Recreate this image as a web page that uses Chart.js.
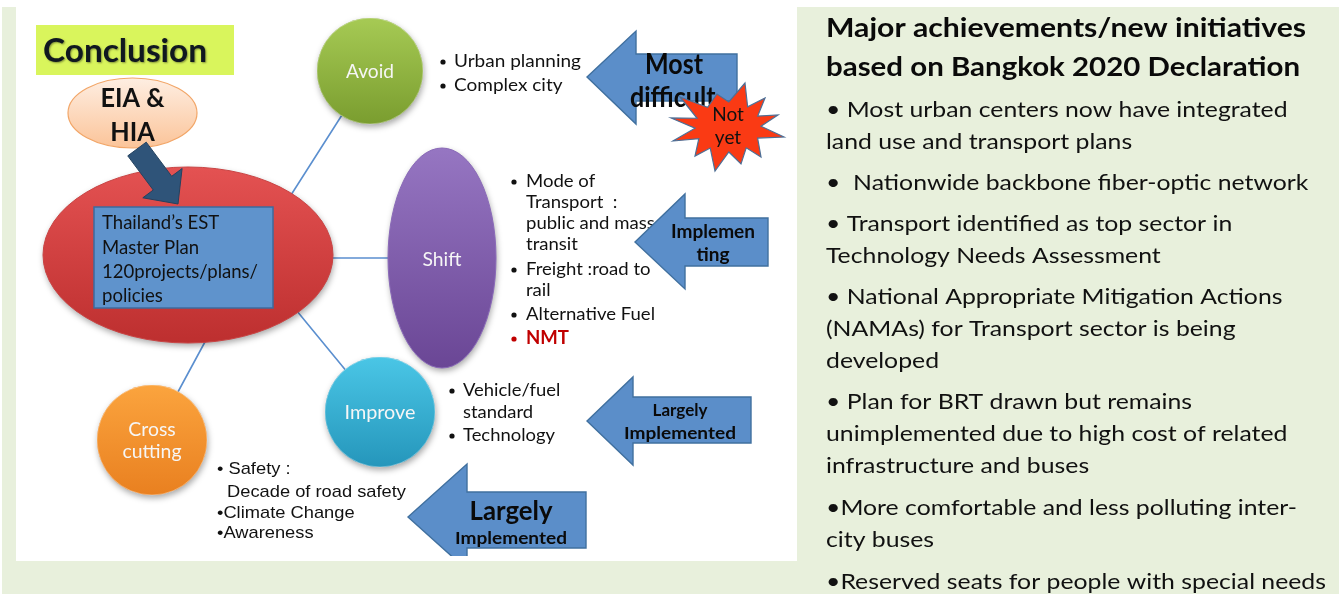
<!DOCTYPE html>
<html><head><meta charset="utf-8">
<script src="https://cdn.jsdelivr.net/npm/chart.js@4"></script>
<style>html,body{margin:0;padding:0;background:#fff;overflow:hidden}canvas{display:block}</style>
</head><body>
<canvas id="c" width="1344" height="594"></canvas>
<script>
// ---------- DATA (text content of the diagram) ----------
const conclusionTitle = "Conclusion";
const assessmentLabel = ["EIA &", "HIA"];
const masterPlanLabel = ["Thailand\u2019s EST", "Master Plan", "120projects/plans/", "policies"];
const strategyLabels = [["Avoid"], ["Improve"], ["Cross", "cutting"]];
const shiftLabel = "Shift";
const avoidItems = [["Urban planning"], ["Complex city"]];
const shiftItems = [["Mode of", "Transport  :", "public and mass", "transit"], ["Freight :road to", "rail"], ["Alternative Fuel"], ["NMT"]];
const improveItems = [["Vehicle/fuel", "standard"], ["Technology"]];
const crossItems = ["\u2022 Safety :", "Decade of road safety", "\u2022Climate Change", "\u2022Awareness"];
const statusLabels = [["Most", "difficult"], ["Implemen", "ting"], ["Largely", "Implemented"], ["Largely", "Implemented"]];
const warningLabel = ["Not", "yet"];
const panelTitle = ["Major achievements/new initiatives", "based on Bangkok 2020 Declaration"];
const panelLines = [
  "\u2022 Most urban centers now have integrated",
  "land use and transport plans",
  "\u2022  Nationwide backbone fiber-optic network",
  "\u2022 Transport identified as top sector in",
  "Technology Needs Assessment",
  "\u2022 National Appropriate Mitigation Actions",
  "(NAMAs) for Transport sector is being",
  "developed",
  "\u2022 Plan for BRT drawn but remains",
  "unimplemented due to high cost of related",
  "infrastructure and buses",
  "\u2022More comfortable and less polluting inter-",
  "city buses",
  "\u2022Reserved seats for people with special needs"
];

// ---------- LAYOUT (positions / sizes / styles) ----------
const L = {
  green: {x: 2, y: 7, x2: 1339, y2: 594, color: '#e8f0dc'},
  white: {x: 16, y: 0, x2: 797, y2: 561},
  conclusion: {x: 36, y: 25, x2: 234, y2: 75, tx: 43, ty: 52, tw: 164},
  eia: {cx: 132.5, cy: 113, rx: 64.5, ry: 35, ty: [99, 133], tw: 64},
  red: {cx: 188, cy: 255, rx: 145, ry: 88},
  rect: {x: 94, y: 207, x2: 273, y2: 308, tx: 102, ty: [223, 248, 272, 296], tw: 156},
  darkArrow: {tail: [137, 149], tip: [178, 204], shaft: 23, head: 49, headLen: 26},
  shift: {cx: 442, cy: 258, rx: 54, ry: 110},
  circles: [
    {cx: 370, cy: 71, r: 53, top: '#a6ca54', bot: '#7a9d2f', ty: [72], tw: 48},
    {cx: 380, cy: 412, r: 55, top: '#4ac6e6', bot: '#2596bb', ty: [413], tw: 71},
    {cx: 152, cy: 440, r: 55, top: '#fba43e', bot: '#e98020', ty: [430, 452], tw: 59, ref: 1}
  ],
  connectors: [[[370, 71], [291, 195]], [[442, 258], [330, 258]], [[380, 412], [292, 305]], [[152, 440], [206, 340]]],
  avoidList: {bx: 443, tx: 454, ys: [61, 85], refW: 127},
  shiftList: {bx: 514, tx: 526, ys: [[181, 202, 223, 244], [269, 290], [314], [338]], refW: 129},
  improveList: {bx: 452, tx: 463, ys: [[390, 412], [435]], refW: 92},
  crossList: {xs: [217, 227, 217, 217], ys: [469, 492, 513, 533], refW: 179},
  arrows: [
    {tip: [587, 77], base: 636, hTop: 31, hBot: 124, sTop: 54, sBot: 101, right: 737,
     text: [{x: 674, y: 65, font: 'bold 28px Lato', w: 58, align: 'center'}, {x: 630, y: 98, font: 'bold 28px Lato', w: null, align: 'left'}]},
    {tip: [635, 242], base: 685, hTop: 194, hBot: 289, sTop: 218, sBot: 266, right: 768,
     text: [{x: 713, y: 232, font: 'bold 18px Lato', w: 84, align: 'center'}, {x: 713, y: 255, font: 'bold 18px Lato', w: null, align: 'center'}]},
    {tip: [587, 421], base: 633, hTop: 377, hBot: 465, sTop: 397, sBot: 443, right: 751,
     text: [{x: 680, y: 411, font: 'bold 17px Lato', w: null, align: 'center'}, {x: 680, y: 434, font: 'bold 17px Lato', w: 112, align: 'center'}]},
    {tip: [408, 517], base: 467, hTop: 464, hBot: 570, sTop: 492, sBot: 548, right: 586, clip: 556,
     text: [{x: 511, y: 512, font: 'bold 26px Lato', w: 83, align: 'center'}, {x: 511, y: 539, font: 'bold 17px Lato', w: 112, align: 'center'}]}
  ],
  star: {cx: 728, cy: 127, irx: 33, iry: 25,
         tips: [[745, 83], [765, 98], [778, 115], [784, 137], [761, 157], [741, 164], [715, 171], [695, 156], [673, 141], [671, 118], [680, 97], [717, 94]],
         ty: [115, 138]},
  panel: {x: 826, titleY: [28, 67], titleW: [480, 474], lineY: [110, 142, 183, 224, 256, 297, 329, 361, 402, 434, 466, 508, 540, 582], refIdx: 13, refW: 500}
};

// ---------- helpers ----------
let X = v => v, Y = v => v;
function group(ctx, lines, xs, ys, font, color, align, refIdx, refW) {
  ctx.font = font;
  const s = refW ? refW / ctx.measureText(lines[refIdx]).width : 1;
  ctx.fillStyle = color; ctx.textBaseline = 'middle'; ctx.textAlign = align;
  lines.forEach((t, i) => {
    const x = Array.isArray(xs) ? xs[i] : xs;
    ctx.save(); ctx.translate(X(x), Y(ys[i])); ctx.scale(s, 1); ctx.fillText(t, 0, 0); ctx.restore();
  });
  return s;
}
function ellipsePath(ctx, e) {
  ctx.beginPath();
  ctx.ellipse(X(e.cx), Y(e.cy), X(e.cx + e.rx) - X(e.cx), Y(e.cy + e.ry) - Y(e.cy), 0, 0, Math.PI * 2);
}
function vgrad(ctx, y0, y1, c0, c1) {
  const g = ctx.createLinearGradient(0, Y(y0), 0, Y(y1));
  g.addColorStop(0, c0); g.addColorStop(1, c1); return g;
}
function shadowed(ctx, fn) {
  ctx.save(); ctx.shadowColor = 'rgba(0,0,0,0.35)'; ctx.shadowBlur = 6; ctx.shadowOffsetX = 1; ctx.shadowOffsetY = 3; fn(); ctx.restore();
}

const diagram = {
  id: 'diagram',
  beforeDatasetsDraw(chart) {
    const ctx = chart.ctx;
    X = v => chart.scales.x.getPixelForValue(v);
    Y = v => chart.scales.y.getPixelForValue(v);
    ctx.save();
    ctx.fillStyle = '#ffffff'; ctx.fillRect(0, 0, chart.width, chart.height);
    const g = L.green; ctx.fillStyle = g.color;
    ctx.fillRect(X(g.x), Y(g.y), X(g.x2) - X(g.x), Y(g.y2) - Y(g.y));
    const w = L.white; ctx.fillStyle = '#ffffff';
    ctx.fillRect(X(w.x), Y(w.y), X(w.x2) - X(w.x), Y(w.y2) - Y(w.y));
    ctx.restore();
  },
  afterDatasetDraw(chart, args) {
    if (args.index !== 0) return; // after connectors: big ellipses and circle shadows
    const ctx = chart.ctx;
    L.circles.forEach(c => shadowed(ctx, () => {
      ctx.beginPath(); ctx.arc(X(c.cx), Y(c.cy), X(c.cx + c.r) - X(c.cx), 0, Math.PI * 2);
      ctx.fillStyle = c.bot; ctx.fill();
    }));
    const r = L.red;
    shadowed(ctx, () => { ellipsePath(ctx, r); ctx.fillStyle = vgrad(ctx, r.cy - r.ry, r.cy + r.ry, '#e45252', '#bd2f2f'); ctx.fill(); });
    ellipsePath(ctx, r); ctx.strokeStyle = '#c94444'; ctx.lineWidth = 1; ctx.stroke();
    const s = L.shift;
    shadowed(ctx, () => { ellipsePath(ctx, s); ctx.fillStyle = vgrad(ctx, s.cy - s.ry, s.cy + s.ry, '#9676c2', '#6a4695'); ctx.fill(); });
    ellipsePath(ctx, s); ctx.strokeStyle = '#8a6ab8'; ctx.lineWidth = 1; ctx.stroke();
  },
  afterDatasetsDraw(chart) {
    const ctx = chart.ctx;
    ctx.save();
    const c = L.conclusion;
    ctx.fillStyle = '#d9f55c';
    ctx.fillRect(X(c.x), Y(c.y), X(c.x2) - X(c.x), Y(c.y2) - Y(c.y));
    ctx.save(); ctx.shadowColor = 'rgba(0,0,0,0.4)'; ctx.shadowOffsetX = 1; ctx.shadowOffsetY = 1; ctx.shadowBlur = 2;
    group(ctx, [conclusionTitle], c.tx, [c.ty], 'bold 32px Lato', '#101820', 'left', 0, c.tw);
    ctx.restore();

    const e = L.eia;
    ellipsePath(ctx, e); ctx.fillStyle = vgrad(ctx, e.cy - e.ry, e.cy + e.ry, '#feeee2', '#fbc499'); ctx.fill();
    ctx.strokeStyle = '#f2a668'; ctx.lineWidth = 1.2; ctx.stroke();
    group(ctx, assessmentLabel, e.cx, e.ty, 'bold 26px Lato', '#111', 'center', 0, e.tw);

    const d = L.darkArrow;
    const dx = d.tip[0] - d.tail[0], dy = d.tip[1] - d.tail[1], len = Math.hypot(dx, dy);
    const ux = dx / len, uy = dy / len, px = -uy, py = ux;
    const bx = d.tip[0] - ux * d.headLen, by = d.tip[1] - uy * d.headLen;
    const pts = [
      [d.tail[0] + px * d.shaft / 2, d.tail[1] + py * d.shaft / 2],
      [bx + px * d.shaft / 2, by + py * d.shaft / 2],
      [bx + px * d.head / 2, by + py * d.head / 2],
      d.tip,
      [bx - px * d.head / 2, by - py * d.head / 2],
      [bx - px * d.shaft / 2, by - py * d.shaft / 2],
      [d.tail[0] - px * d.shaft / 2, d.tail[1] - py * d.shaft / 2]
    ];
    ctx.beginPath(); pts.forEach((p, i) => i ? ctx.lineTo(X(p[0]), Y(p[1])) : ctx.moveTo(X(p[0]), Y(p[1]))); ctx.closePath();
    ctx.fillStyle = '#2f5479'; ctx.fill(); ctx.strokeStyle = '#24425f'; ctx.lineWidth = 1; ctx.stroke();

    const rc = L.rect;
    ctx.fillStyle = '#5f93cc'; ctx.fillRect(X(rc.x), Y(rc.y), X(rc.x2) - X(rc.x), Y(rc.y2) - Y(rc.y));
    ctx.strokeStyle = '#3d6b9e'; ctx.lineWidth = 1.5; ctx.strokeRect(X(rc.x), Y(rc.y), X(rc.x2) - X(rc.x), Y(rc.y2) - Y(rc.y));
    group(ctx, masterPlanLabel, rc.tx, rc.ty, '20px Lato', '#111', 'left', 2, rc.tw);

    L.circles.forEach((n, i) => {
      group(ctx, strategyLabels[i], n.cx, n.ty, '19px Lato', '#f6f6f6', 'center', n.ref || 0, n.tw);
    });
    group(ctx, [shiftLabel], L.shift.cx, [260], '19px Lato', '#f6f6f6', 'center', 0, 39);

    const bullets = (items, spec, ysOf, color, fontFor, refLine) => {
      ctx.font = '18px Lato';
      const s = spec.refW / ctx.measureText(refLine).width;
      items.forEach((lines, i) => {
        const ys = ysOf(i);
        ctx.fillStyle = color(i);
        ctx.beginPath(); ctx.arc(X(spec.bx), Y(ys[0] + 1), 2.6, 0, Math.PI * 2); ctx.fill();
        ctx.font = fontFor(i); ctx.textBaseline = 'middle'; ctx.textAlign = 'left';
        lines.forEach((t, j) => {
          ctx.save(); ctx.translate(X(spec.tx), Y(ys[j])); ctx.scale(s, 1); ctx.fillText(t, 0, 0); ctx.restore();
        });
      });
    };
    const av = L.avoidList;
    bullets(avoidItems, av, i => [av.ys[i]], () => '#111', () => '18px Lato', avoidItems[0][0]);
    const sh = L.shiftList;
    bullets(shiftItems, sh, i => sh.ys[i], i => i === 3 ? '#c00000' : '#111', i => i === 3 ? 'bold 18px Lato' : '18px Lato', shiftItems[2][0]);
    const im = L.improveList;
    bullets(improveItems, im, i => im.ys[i], () => '#111', () => '18px Lato', improveItems[1][0]);
    const cl = L.crossList;
    group(ctx, crossItems, cl.xs, cl.ys, '17px "Liberation Sans"', '#111', 'left', 1, cl.refW);

    L.arrows.forEach((a, i) => {
      ctx.save();
      if (a.clip) { ctx.beginPath(); ctx.rect(0, 0, chart.width, Y(a.clip)); ctx.clip(); }
      const p = [[a.tip[0], a.tip[1]], [a.base, a.hTop], [a.base, a.sTop], [a.right, a.sTop], [a.right, a.sBot], [a.base, a.sBot], [a.base, a.hBot]];
      ctx.beginPath(); p.forEach((q, k) => k ? ctx.lineTo(X(q[0]), Y(q[1])) : ctx.moveTo(X(q[0]), Y(q[1]))); ctx.closePath();
      ctx.fillStyle = '#5b8ec9'; ctx.fill(); ctx.strokeStyle = '#40709f'; ctx.lineWidth = 1.4; ctx.stroke();
      ctx.restore();
      let sc = 1;
      a.text.forEach((t, k) => {
        ctx.font = t.font;
        if (t.w) sc = t.w / ctx.measureText(statusLabels[i][k]).width;
        ctx.fillStyle = '#0a0a0a'; ctx.textBaseline = 'middle'; ctx.textAlign = t.align;
        ctx.save(); ctx.translate(X(t.x), Y(t.y)); ctx.scale(sc, 1); ctx.fillText(statusLabels[i][k], 0, 0); ctx.restore();
      });
    });

    // "Not yet" explosion
    const st = L.star;
    const ang = p => Math.atan2(p[1] - st.cy, p[0] - st.cx);
    ctx.beginPath();
    st.tips.forEach((p, k) => {
      k ? ctx.lineTo(X(p[0]), Y(p[1])) : ctx.moveTo(X(p[0]), Y(p[1]));
      const q = st.tips[(k + 1) % st.tips.length];
      let a0 = ang(p), a1 = ang(q);
      if (a1 < a0) a1 += Math.PI * 2;
      const am = (a0 + a1) / 2;
      ctx.lineTo(X(st.cx + Math.cos(am) * st.irx), Y(st.cy + Math.sin(am) * st.iry));
    });
    ctx.closePath(); ctx.fillStyle = '#fa3a14'; ctx.fill(); ctx.strokeStyle = '#4d6f96'; ctx.lineWidth = 1.2; ctx.stroke();
    group(ctx, warningLabel, st.cx, st.ty, '19px Lato', '#111', 'center', 0, null);

    const pn = L.panel;
    panelTitle.forEach((t, i) => group(ctx, [t], pn.x, [pn.titleY[i]], 'bold 27px Lato', '#0a0a0a', 'left', 0, pn.titleW[i]));
    group(ctx, panelLines, pn.x, pn.lineY, '22px Lato', '#111', 'left', pn.refIdx, pn.refW);
    ctx.restore();
  }
};

// ---------- chart ----------
const connectorData = [];
L.connectors.forEach((seg, i) => {
  if (i) connectorData.push({x: null, y: null});
  seg.forEach(p => connectorData.push({x: p[0], y: p[1]}));
});

new Chart(document.getElementById('c'), {
  type: 'scatter',
  data: {
    datasets: [
      {
        label: 'connectors', data: connectorData, showLine: true, spanGaps: false,
        borderColor: '#5b8fcf', borderWidth: 1.6, pointRadius: 0, order: 10, clip: false
      },
      {
        label: 'strategies', data: L.circles.map(c => ({x: c.cx, y: c.cy})),
        pointRadius: L.circles.map(c => c.r), pointHoverRadius: L.circles.map(c => c.r),
        backgroundColor: (cx) => {
          const c = L.circles[cx.dataIndex];
          if (!c || !cx.chart.chartArea) return '#888';
          return vgrad(cx.chart.ctx, c.cy - c.r, c.cy + c.r, c.top, c.bot);
        },
        borderColor: 'rgba(255,255,255,0.35)', borderWidth: 1, order: 1, clip: false
      }
    ]
  },
  options: {
    responsive: false, animation: false, events: [],
    devicePixelRatio: 1,
    layout: {padding: 0, autoPadding: false},
    scales: {
      x: {type: 'linear', min: 0, max: 1344, display: false},
      y: {type: 'linear', min: 0, max: 594, reverse: true, display: false}
    },
    plugins: {legend: {display: false}, tooltip: {enabled: false}}
  },
  plugins: [diagram]
});
</script>
</body></html>
